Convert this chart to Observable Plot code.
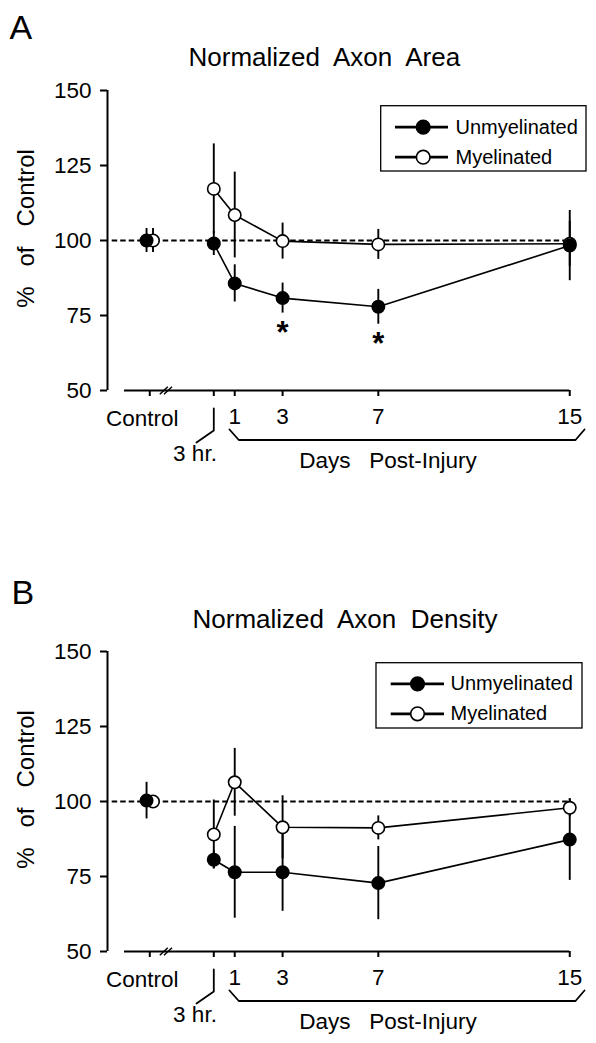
<!DOCTYPE html>
<html><head><meta charset="utf-8">
<script src="https://cdn.jsdelivr.net/npm/d3@7"></script>
<script src="https://cdn.jsdelivr.net/npm/@observablehq/plot@0.6"></script>
<style>
html,body{margin:0;padding:0;background:#fff;overflow:hidden;}
#chart svg{display:block;}
</style></head><body><div id="chart"></div>
<script>
// ---------------- data ----------------
const timeLabels = ["Control", "3 hr.", "1", "3", "7", "15"];
const timeDays   = [null, 0.125, 1, 3, 7, 15];
const seriesNames = ["Unmyelinated", "Myelinated"];
const yTicks = [50, 75, 100, 125, 150];
const controlLevel = 100;

// Panel A: Normalized Axon Area (% of control, mean and error)
const areaUnmyelMean = [100, 99.0, 85.7, 80.8, 77.9, 98.3];
const areaUnmyelErr  = [4, 4, 6.2, 5, 5.8, 11.7];
const areaUnmyelSig  = [false, false, false, true, true, false];
const areaMyelMean   = [100, 117.2, 108.5, 99.8, 98.7, 98.9];
const areaMyelErr    = [4, 15, 14.3, 6, 5, 7.5];

// Panel B: Normalized Axon Density
const densUnmyelMean = [100.3, 80.6, 76.4, 76.4, 72.8, 87.3];
const densUnmyelErr  = [6.1, 3, 15.3, 13, 12.2, 13.6];
const densUnmyelSig  = [false, false, false, false, false, false];
const densMyelMean   = [100, 89, 106.4, 91.4, 91.2, 97.9];
const densMyelErr    = [2, 11.5, 11.3, 10.5, 4, 3];

// ---------------- layout ----------------
const W = 596;
const PX_PER_DAY = 23.93, DAY0_PX = 210.3;
const FRAME_L = 107, FRAME_R = DAY0_PX + 15 * PX_PER_DAY, FRAME_T = 90, FRAME_B = 390;
const X_MIN = (FRAME_L - DAY0_PX) / PX_PER_DAY;
const CONTROL_DAY = -2.55, CONTROL_JITTER = 0.135;
const px2x = px => (px - DAY0_PX) / PX_PER_DAY;
const py2y = py => 150 - (py - FRAME_T) / 3;
const FONT = "'Liberation Sans', Arial, Helvetica, sans-serif";

function panel(cfg) {
  const rows = [];
  seriesNames.forEach((s, si) => {
    const m = si === 0 ? cfg.unmyel : cfg.myel;
    const e = si === 0 ? cfg.unmyelErr : cfg.myelErr;
    timeLabels.forEach((t, i) => {
      rows.push({
        series: s, label: t,
        x: i === 0 ? CONTROL_DAY + (si === 0 ? -CONTROL_JITTER : CONTROL_JITTER) : timeDays[i],
        y: m[i], lo: m[i] - e[i], hi: m[i] + e[i],
        sig: si === 0 && cfg.sig[i], isControl: i === 0
      });
    });
  });
  const tickXs = [CONTROL_DAY, ...timeDays.slice(1)];
  const lg = cfg.legend;
  const legendEntries = seriesNames.map((s, i) => ({name: s, py: lg.rows[i], fill: i === 0 ? "black" : "white"}));

  return Plot.plot({
    width: W, height: cfg.height,
    marginLeft: FRAME_L, marginRight: W - FRAME_R, marginTop: FRAME_T, marginBottom: cfg.height - FRAME_B,
    x: {type: "linear", domain: [X_MIN, 15], range: [FRAME_L, FRAME_R], label: null},
    y: {type: "linear", domain: [50, 150], range: [FRAME_B, FRAME_T], label: null},
    style: {fontFamily: FONT, fontSize: "22px", color: "black", background: "white", overflow: "visible"},
    marks: [
      // reference line at 100 %
      Plot.ruleY([controlLevel], {x1: px2x(111.7), x2: 15, strokeDasharray: "5.5,3", strokeWidth: 2}),
      // error bars
      Plot.ruleX(rows, {x: "x", y1: "lo", y2: "hi", strokeWidth: 1.9}),
      // series lines (post-injury only)
      Plot.line(rows.filter(d => !d.isControl), {x: "x", y: "y", z: "series", strokeWidth: 1.6}),
      Plot.dot(rows.filter(d => d.series === "Myelinated"), {x: "x", y: "y", r: 6.2, fill: "white", stroke: "black", strokeWidth: 1.6}),
      Plot.dot(rows.filter(d => d.series === "Unmyelinated"), {x: "x", y: "y", r: 6.2, fill: "black", stroke: "black", strokeWidth: 1.6}),
      // significance
      Plot.text(rows.filter(d => d.sig), {x: "x", y: "lo", text: () => "*", dy: 30, fontSize: 31, fontWeight: "bold", lineAnchor: "bottom"}),
      // axes
      Plot.axisY({ticks: yTicks, tickSize: 7, tickPadding: 9, fontSize: 22.5, strokeWidth: 2, label: null}),
      Plot.ruleX([X_MIN], {y1: 50, y2: 150, strokeWidth: 2}),
      Plot.ruleY([50], {x1: px2x(124), x2: 15, strokeWidth: 2}),
      Plot.axisX({ticks: tickXs, tickFormat: d => (d === CONTROL_DAY || d === 0.125) ? "" : String(d),
                  tickSize: 6, tickPadding: 12, fontSize: 22.5, strokeWidth: 2, label: null}),
      Plot.text([timeLabels[0]], {x: CONTROL_DAY, y: 50, dx: -7.5, dy: 35, lineAnchor: "bottom", fontSize: 22.5}),
      // axis break
      Plot.link([px2x(163.3), px2x(167.5)], {x1: d => d - 0.167, x2: d => d + 0.167, y1: 50 - 1.25, y2: 50 + 1.25, strokeWidth: 1.5}),
      // 3 hr leader
      Plot.line([[0.125, py2y(408)], [0.125, py2y(430)], [px2x(196), py2y(442)]], {strokeWidth: 1.8}),
      Plot.text([timeLabels[1]], {x: px2x(194.5), y: py2y(460.5), lineAnchor: "bottom", fontSize: 22.5}),
      // days bracket
      Plot.line([[px2x(229), py2y(429)], [px2x(238.3), py2y(439.5)], [px2x(575), py2y(439.5)], [px2x(584), py2y(429)]], {strokeWidth: 1.8}),
      Plot.text(["Days\u00a0\u00a0 Post-Injury"], {x: px2x(387.5), y: py2y(467), lineAnchor: "bottom", fontSize: 22.5}),
      // y label
      Plot.text(["%\u00a0\u00a0 of\u00a0\u00a0 Control"], {x: px2x(33), y: py2y(228), rotate: -90, lineAnchor: "bottom", fontSize: 24}),
      // title and panel letter
      Plot.text([cfg.title], {x: px2x(cfg.titleX), y: py2y(cfg.titleY), textAnchor: "start", lineAnchor: "bottom", fontSize: 26}),
      Plot.text([cfg.letter], {x: px2x(cfg.letterX), y: py2y(cfg.letterY), textAnchor: "start", lineAnchor: "bottom", fontSize: 34}),
      // legend
      Plot.rect([lg], {x1: d => px2x(d.x1), x2: d => px2x(d.x2), y1: d => py2y(d.y1), y2: d => py2y(d.y2), fill: "white", stroke: "black", strokeWidth: 1.3}),
      Plot.ruleY(legendEntries, {y: d => py2y(d.py), x1: px2x(lg.lineX1), x2: px2x(lg.lineX2), strokeWidth: 2.8}),
      Plot.dot(legendEntries, {x: px2x(lg.markX), y: d => py2y(d.py), r: 6.8, fill: "fill", stroke: "black", strokeWidth: 1.6}),
      Plot.text(legendEntries, {x: px2x(lg.textX), y: d => py2y(d.py), text: "name", textAnchor: "start", lineAnchor: "middle", fontSize: 20})
    ]
  });
}

const chart = document.getElementById("chart");
chart.appendChild(panel({
  letter: "A", letterX: 9, letterY: 38,
  title: "Normalized\u00a0 Axon\u00a0 Area", titleX: 188, titleY: 65,
  height: 561,
  unmyel: areaUnmyelMean, unmyelErr: areaUnmyelErr, myel: areaMyelMean, myelErr: areaMyelErr, sig: areaUnmyelSig,
  legend: {x1: 380.7, x2: 586, y1: 105.7, y2: 171, rows: [126.7, 156.7], lineX1: 395, lineX2: 448, markX: 422.7, textX: 455}
}));
chart.appendChild(panel({
  letter: "B", letterX: 11, letterY: 42.5,
  title: "Normalized\u00a0 Axon\u00a0 Density", titleX: 192, titleY: 66,
  height: 482,
  unmyel: densUnmyelMean, unmyelErr: densUnmyelErr, myel: densMyelMean, myelErr: densMyelErr, sig: densUnmyelSig,
  legend: {x1: 376, x2: 582, y1: 101.7, y2: 167, rows: [122.3, 152.3], lineX1: 390.7, lineX2: 444, markX: 417, textX: 450}
}));
</script></body></html>
